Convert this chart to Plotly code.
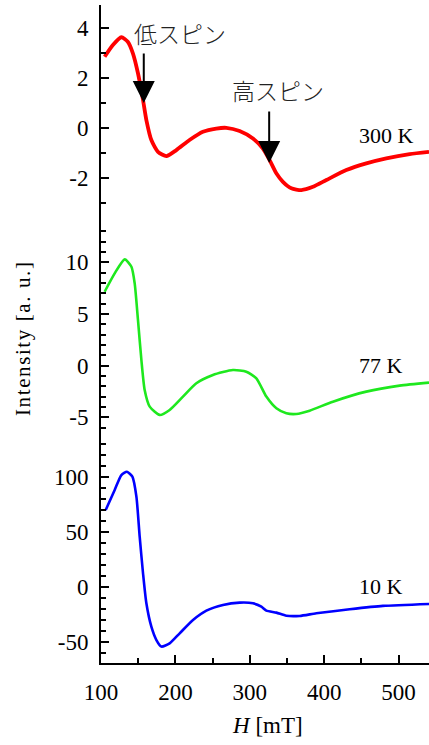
import plotly.graph_objects as go

# ---- data ----
H_300 = [104.9, 116, 127.4, 136, 143, 149.7, 156.5, 161, 167.7, 176.6, 187.9, 201.3, 219, 237, 255,
         268.5, 286.4, 304.3, 317.7, 326.7, 335.7, 344.6, 355.9, 369.4, 385, 403, 429.8, 456.7,
         483.6, 515, 541]
I_300 = [2.84, 3.31, 3.62, 3.44, 2.97, 2.18, 1.11, 0.31, -0.49, -0.96, -1.13, -0.89, -0.49, -0.16,
         -0.03, 0.0, -0.13, -0.43, -0.83, -1.29, -1.82, -2.16, -2.42, -2.49, -2.36, -2.09, -1.69,
         -1.42, -1.22, -1.05, -0.96]

H_77 = [104.9, 118.4, 131.9, 140.9, 145.3, 149.7, 154.3, 158.7, 165.5, 178.9, 192.3, 210.2, 228.2,
        250.5, 277.4, 295.4, 308.9, 322.3, 335.8, 349.2, 362.6, 380.5, 411.8, 456.7, 501.5, 541]
I_77 = [7.15, 8.93, 10.28, 9.57, 7.96, 4.42, 0.55, -2.35, -3.96, -4.76, -4.28, -2.99, -1.70, -0.90,
        -0.42, -0.58, -1.22, -2.99, -4.12, -4.60, -4.67, -4.35, -3.48, -2.51, -1.93, -1.64]

H_10 = [106.3, 118.4, 127.4, 134.9, 142.2, 147.6, 152, 156.5, 161, 167.7, 174.5, 181.2, 192.3,
        205.8, 223.7, 241.7, 264, 286.4, 304.3, 315.6, 322.3, 335.8, 349.2, 367, 389.5, 434.3,
        479, 541]
I_10 = [69.7, 87.9, 101.5, 104.5, 100, 81.8, 45.5, 12.2, -15.1, -36.4, -48.5, -54.5, -51.5, -42.4,
        -30.3, -21.8, -16.6, -14.5, -15.1, -18.2, -21.8, -23.6, -26.4, -26.6, -24.2, -20.6, -17.5,
        -15.7]

x_ticks = [100, 200, 300, 400, 500]
y1_ticks = [4, 2, 0, -2]
y1_labels = ["4", "2", "0", "-2"]
y2_ticks = [10, 5, 0, -5]
y2_labels = ["10", "5", "0", "-5"]
y3_ticks = [100, 50, 0, -50]
y3_labels = ["100", "50", "0", "-50"]

temps = ["300 K", "77 K", "10 K"]
spin_labels = ["低スピン", "高スピン"]
arrow_H = [157.5, 326.1]
arrow_I = [0.99, -1.41]

SERIF = "Liberation Serif, Times New Roman, serif"
JP = "Noto Sans CJK JP"

fig = go.Figure()
fig.add_trace(go.Scatter(x=H_300, y=I_300, mode="lines", line=dict(color="#ff0000", width=3.8, shape="spline", smoothing=0.6),
                         xaxis="x", yaxis="y", showlegend=False))
fig.add_trace(go.Scatter(x=H_77, y=I_77, mode="lines", line=dict(color="#1ee81e", width=2.6, shape="spline", smoothing=0.6),
                         xaxis="x", yaxis="y2", showlegend=False))
fig.add_trace(go.Scatter(x=H_10, y=I_10, mode="lines", line=dict(color="#0000ff", width=2.6, shape="spline", smoothing=0.6),
                         xaxis="x", yaxis="y3", showlegend=False))

tickfont = dict(family=SERIF, size=23, color="black")
common_y = dict(showline=True, linecolor="black", linewidth=2, ticks="inside", ticklen=8, tickwidth=1.5,
                tickcolor="black", showgrid=False, zeroline=False, tickfont=tickfont, anchor="x",
                tickmode="array", ticklabelstandoff=6, automargin=False)

fig.update_layout(
    width=429, height=745,
    margin=dict(l=101, r=0, t=5, b=82),
    paper_bgcolor="white", plot_bgcolor="white",
    xaxis=dict(range=[100, 541], anchor="y3", showline=True, linecolor="black", linewidth=2,
               ticks="inside", ticklen=8, tickwidth=1.5, tickcolor="black", showgrid=False, zeroline=False,
               tickmode="array", tickvals=x_ticks, ticktext=[str(v) for v in x_ticks], tickfont=tickfont,
               ticklabelstandoff=7, automargin=False,
               minor=dict(ticks="inside", ticklen=5, tickwidth=1.5, tickcolor="black", dtick=50, tick0=50, showgrid=False)),
    xaxis2=dict(range=[100, 520.1], overlaying="x", anchor="y", side="top", showline=True, linecolor="black",
                linewidth=2, ticks="inside", ticklen=8, tickwidth=1.5, tickcolor="black", showgrid=False,
                zeroline=False, showticklabels=False, dtick=100, tick0=0, automargin=False,
                minor=dict(ticks="inside", ticklen=5, tickwidth=1.5, tickcolor="black", dtick=50, tick0=50, showgrid=False)),
    yaxis=dict(domain=[0.664, 1], range=[-3.93, 4.91], tickvals=y1_ticks, ticktext=y1_labels,
               minor=dict(ticks="inside", ticklen=5, tickwidth=1.5, tickcolor="black", dtick=1, tick0=0, showgrid=False),
               **common_y),
    yaxis2=dict(domain=[0.342, 0.664], range=[-6.99, 13.5], tickvals=y2_ticks, ticktext=y2_labels,
                minor=dict(ticks="inside", ticklen=5, tickwidth=1.5, tickcolor="black", dtick=1, tick0=0, showgrid=False),
                **common_y),
    yaxis3=dict(domain=[0, 0.342], range=[-69.4, 135.2], tickvals=y3_ticks, ticktext=y3_labels,
                minor=dict(ticks="inside", ticklen=5, tickwidth=1.5, tickcolor="black", dtick=10, tick0=0, showgrid=False),
                **common_y),
)

# right-side short tick marks (the mirrored axis is cut off at the image edge)
for name, base, vals in [("yaxis4", "y", y1_ticks), ("yaxis5", "y2", y2_ticks), ("yaxis6", "y3", y3_ticks)]:
    fig.update_layout(**{name: dict(overlaying=base, matches=base, anchor="x", side="right", showline=False,
                                    ticks="inside", ticklen=3, tickwidth=1.5, tickcolor="black",
                                    showticklabels=False, showgrid=False, zeroline=False, automargin=False,
                                    tickmode="array", tickvals=vals)})

# temperature labels
for txt, yref, yv in zip(temps, ["y", "y2", "y3"], [-0.3, 0, 0]):
    fig.add_annotation(text=txt, x=(356.7 - 101) / 328, xref="paper", y=yv, yref=yref, xanchor="left", yanchor="middle",
                       showarrow=False, font=dict(family=SERIF, size=22, color="black"))

# spin labels and arrows
fig.add_annotation(text=spin_labels[0], x=(180 - 101.3) / 0.743 + 100, xref="x", y=(127.7 - 33) / 25, yref="y",
                   xanchor="center", yanchor="middle", showarrow=False,
                   font=dict(family=JP, size=23, color="#222", weight=300))
fig.add_annotation(text=spin_labels[1], x=(278.5 - 101.3) / 0.743 + 100, xref="x", y=(127.7 - 90) / 25, yref="y",
                   xanchor="center", yanchor="middle", showarrow=False,
                   font=dict(family=JP, size=23, color="#222", weight=300))
for hx, iy, ay in zip(arrow_H, arrow_I, [-51, -53]):
    fig.add_annotation(text="", x=hx, y=iy, xref="x", yref="y", ax=0, ay=ay, showarrow=True,
                       arrowhead=2, arrowsize=2.2, arrowwidth=2, arrowcolor="black", standoff=0)

# axis titles
fig.add_annotation(text="<i>H</i> [mT]", x=(268 - 101.3) / 0.743 + 100, xref="x", y=-(725 - 663) / 658, yref="paper",
                   showarrow=False, yanchor="middle", font=dict(family=SERIF, size=23, color="black"))
fig.add_annotation(text='<span style="letter-spacing:1.6px">Intensity [a. u.]</span>',
                   x=-(101 - 23) / 328, xref="paper", y=(663 - 338) / 658, yref="paper",
                   textangle=-90, showarrow=False, xanchor="center", yanchor="middle",
                   font=dict(family=SERIF, size=21, color="black"))

fig.write_html("out.html", config={"displayModeBar": False},
               post_script="document.body.style.margin='0';document.body.style.overflow='hidden';")
